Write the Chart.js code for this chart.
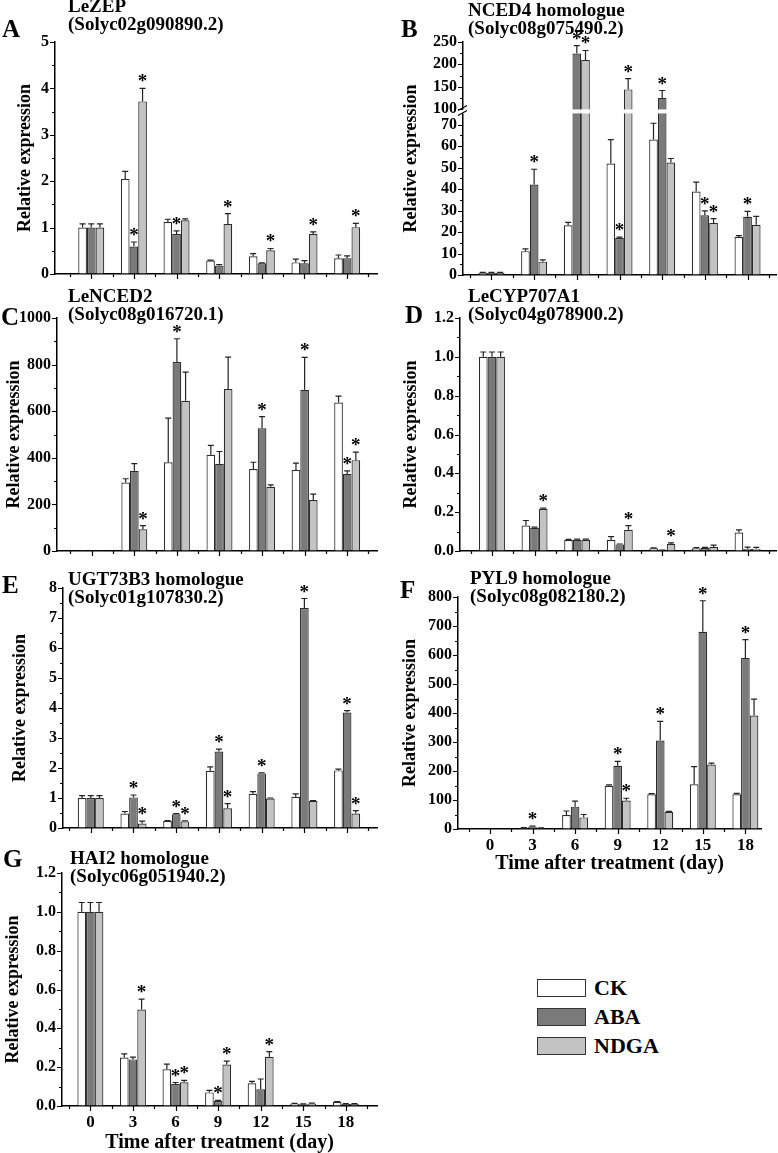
<!DOCTYPE html>
<html>
<head>
<meta charset="utf-8">
<title>ABA pathway gene expression</title>
<script src="https://cdn.jsdelivr.net/npm/chart.js@4.4.1/dist/chart.umd.min.js"></script>
<style>
  html, body { margin: 0; padding: 0; background: #fff; }
  body { position: relative; width: 778px; height: 1153px; overflow: hidden;
         font-family: 'Liberation Serif', 'Times New Roman', serif; font-weight: bold; color: #000; }
  canvas { position: absolute; }
  .letter { position: absolute; font-size: 25px; line-height: 25px; z-index: 2; }
  .gene { position: absolute; font-size: 19px; line-height: 17.5px; white-space: nowrap; z-index: 2; }
  .key { position: absolute; left: 537px; width: 47px; height: 16px; border: 1.5px solid #333; }
  .keytxt { position: absolute; left: 594px; font-size: 22px; line-height: 22px; }
</style>
</head>
<body>
<div class="letter" style="left:2px;top:16px">A</div>
<div class="gene" style="left:68px;top:-3px">LeZEP<br>(Solyc02g090890.2)</div>
<div class="letter" style="left:401px;top:16px">B</div>
<div class="gene" style="left:468px;top:1px">NCED4 homologue<br>(Solyc08g075490.2)</div>
<div class="letter" style="left:1px;top:304px">C</div>
<div class="gene" style="left:68px;top:287px">LeNCED2<br>(Solyc08g016720.1)</div>
<div class="letter" style="left:405px;top:302px">D</div>
<div class="gene" style="left:468px;top:287px">LeCYP707A1<br>(Solyc04g078900.2)</div>
<div class="letter" style="left:2px;top:572px">E</div>
<div class="gene" style="left:68px;top:570px">UGT73B3 homologue<br>(Solyc01g107830.2)</div>
<div class="letter" style="left:400px;top:577px">F</div>
<div class="gene" style="left:470px;top:569px">PYL9 homologue<br>(Solyc08g082180.2)</div>
<div class="letter" style="left:3px;top:846px">G</div>
<div class="gene" style="left:70px;top:849px">HAI2 homologue<br>(Solyc06g051940.2)</div>

<div class="key" style="top:979px;background:#ffffff"></div>
<div class="keytxt" style="top:977px">CK</div>
<div class="key" style="top:1008px;background:#7a7a7a"></div>
<div class="keytxt" style="top:1006px">ABA</div>
<div class="key" style="top:1037px;background:#c3c3c3"></div>
<div class="keytxt" style="top:1035px">NDGA</div>

<script>
Chart.defaults.font.family = "'Liberation Serif', 'Times New Roman', serif";
Chart.defaults.font.weight = 'bold';
Chart.defaults.color = '#000';

const days = [0, 3, 6, 9, 12, 15, 18];
const treatments = ['CK', 'ABA', 'NDGA'];
const barFills = ['#ffffff', '#7a7a7a', '#c3c3c3'];

// A  LeZEP   (rows: CK, ABA, NDGA)
const zepMean = [[1, 2.05, 1.12, 0.29, 0.38, 0.25, 0.34],
                 [1, 0.59, 0.86, 0.18, 0.23, 0.23, 0.34],
                 [1, 3.72, 1.16, 1.08, 0.51, 0.86, 1.01]];
const zepErr  = [[0.08, 0.16, 0.06, 0.01, 0.06, 0.07, 0.07],
                 [0.08, 0.10, 0.07, 0.02, 0.01, 0.06, 0.05],
                 [0.08, 0.28, 0.03, 0.22, 0.04, 0.05, 0.08]];
const zepStar = [[0, 0, 0, 0, 0, 0, 0], [0, 1, 1, 0, 0, 0, 0], [0, 1, 0, 1, 1, 1, 1]];
const zepTicks = [0, 1, 2, 3, 4, 5];

// B  NCED4 homologue
const nced4Mean = [[1, 11.1, 23.1, 51.9, 63.0, 38.8, 17.7],
                   [1, 42.1, 224, 17.2, 125, 27.8, 27.1],
                   [1, 6.2, 210, 144, 52.3, 24.2, 23.4]];
const nced4Err  = [[0.2, 1.1, 1.4, 11.1, 7.6, 4.4, 0.6],
                   [0.2, 7.1, 18, 0.4, 16.5, 2.0, 2.5],
                   [0.2, 0.8, 21, 24, 1.9, 2.0, 3.9]];
const nced4Star = [[0, 0, 0, 0, 0, 0, 0], [0, 1, 1, 1, 1, 1, 1], [0, 0, 1, 1, 0, 1, 0]];
const nced4Ticks = [0, 10, 20, 30, 40, 50, 60, 70, 100, 150, 200, 250];

// C  LeNCED2
const nced2Mean = [[1, 294, 381, 413, 352, 348, 637],
                   [1, 344, 811, 374, 527, 692, 331],
                   [1, 93, 645, 695, 276, 219, 390]];
const nced2Err  = [[0, 16, 189, 40, 29, 29, 28],
                   [0, 31, 100, 53, 50, 139, 13],
                   [0, 16, 123, 137, 8, 25, 34]];
const nced2Star = [[0, 0, 0, 0, 0, 0, 0], [0, 0, 1, 0, 1, 1, 1], [0, 1, 0, 0, 0, 0, 1]];
const nced2Ticks = [0, 200, 400, 600, 800, 1000];

// D  LeCYP707A1
const cypMean = [[1, 0.131, 0.057, 0.057, 0.014, 0.014, 0.095],
                 [1, 0.120, 0.058, 0.034, 0.004, 0.015, 0.012],
                 [1, 0.217, 0.058, 0.109, 0.036, 0.020, 0.012]];
const cypErr  = [[0.025, 0.026, 0.003, 0.017, 0.002, 0.004, 0.014],
                 [0.025, 0.003, 0.003, 0.002, 0.001, 0.004, 0.008],
                 [0.025, 0.004, 0.003, 0.022, 0.006, 0.010, 0.007]];
const cypStar = [[0, 0, 0, 0, 0, 0, 0], [0, 0, 0, 0, 0, 0, 0], [0, 1, 0, 1, 1, 0, 0]];
const cypTicks = [0, 0.2, 0.4, 0.6, 0.8, 1.0, 1.2];

// E  UGT73B3 homologue
const ugtMean = [[1, 0.48, 0.23, 1.91, 1.14, 1.04, 1.92],
                 [1, 1.02, 0.46, 2.55, 1.82, 7.33, 3.85],
                 [1, 0.15, 0.22, 0.66, 0.98, 0.90, 0.48]];
const ugtErr  = [[0.08, 0.07, 0.02, 0.13, 0.07, 0.10, 0.04],
                 [0.08, 0.08, 0.02, 0.08, 0.02, 0.32, 0.06],
                 [0.08, 0.08, 0.02, 0.15, 0.02, 0.01, 0.10]];
const ugtStar = [[0, 0, 0, 0, 0, 0, 0], [0, 1, 1, 1, 1, 1, 1], [0, 1, 1, 1, 0, 0, 1]];
const ugtTicks = [0, 1, 2, 3, 4, 5, 6, 7, 8];

// F  PYL9 homologue
const pylMean = [[1, 4, 48, 149, 120, 154, 120],
                 [1, 8, 77, 218, 305, 680, 590],
                 [1, 3, 40, 98, 59, 222, 391]];
const pylErr  = [[0, 1, 14, 3, 2, 61, 3],
                 [0, 2, 19, 15, 66, 107, 63],
                 [0, 1, 10, 8, 2, 5, 57]];
const pylStar = [[0, 0, 0, 0, 0, 0, 0], [0, 1, 0, 1, 1, 1, 1], [0, 0, 0, 1, 0, 0, 0]];
const pylTicks = [0, 100, 200, 300, 400, 500, 600, 700, 800];

// G  HAI2 homologue
const haiMean = [[1, 0.250, 0.189, 0.070, 0.117, 0.012, 0.020],
                 [1, 0.240, 0.113, 0.026, 0.086, 0.009, 0.010],
                 [1, 0.497, 0.122, 0.214, 0.254, 0.012, 0.010]];
const haiErr  = [[0.048, 0.018, 0.027, 0.010, 0.010, 0.002, 0.003],
                 [0.048, 0.012, 0.008, 0.003, 0.053, 0.002, 0.002],
                 [0.048, 0.053, 0.010, 0.017, 0.026, 0.003, 0.002]];
const haiStar = [[0, 0, 0, 0, 0, 0, 0], [0, 0, 1, 1, 0, 0, 0], [0, 1, 1, 1, 1, 0, 0]];
const haiTicks = [0, 0.2, 0.4, 0.6, 0.8, 1.0, 1.2];

// broken y axis of panel B: 0-75 full scale, 100-250 squeezed above the break
const BREAK_LO = 75, BREAK_HI = 100, BREAK_AT = 77.2, UPPER_K = 0.208;
function brokenT(v) {
  if (v === null || v <= BREAK_LO) return v;
  if (v >= BREAK_HI) return BREAK_AT + (v - BREAK_HI) * UPPER_K;
  return BREAK_LO + (v - BREAK_LO) * (BREAK_AT - BREAK_LO) / (BREAK_HI - BREAK_LO);
}
class BrokenScale extends Chart.LinearScale {
  getPixelForValue(v) { return super.getPixelForValue(brokenT(v)); }
}
BrokenScale.id = 'broken';
BrokenScale.defaults = Chart.LinearScale.defaults;
Chart.register(BrokenScale);

function makePanel(p) {
  const LEFT = 64, TOP = 14, RIGHT = 4;
  const w = p.x1 - p.x0 + LEFT + RIGHT;
  const h = p.y1 - p.y0 + TOP + p.bottom;
  const cv = document.createElement('canvas');
  cv.width = w; cv.height = h;
  cv.style.left = (p.x0 - LEFT) + 'px';
  cv.style.top = (p.y0 - TOP) + 'px';
  cv.style.width = w + 'px'; cv.style.height = h + 'px';
  document.body.appendChild(cv);

  const tickFont = {size: 16, weight: 'bold'};

  const decor = {
    id: 'decor',
    afterDatasetsDraw(chart) {
      const ctx = chart.ctx, ys = chart.scales.y, a = chart.chartArea;
      ctx.save();
      ctx.strokeStyle = '#222';
      ctx.lineWidth = 1.2;
      ctx.fillStyle = '#000';
      ctx.font = "bold 19px 'Liberation Serif', serif";
      ctx.textAlign = 'center';
      chart.data.datasets.forEach((ds, k) => {
        chart.getDatasetMeta(k).data.forEach((bar, i) => {
          const top = ys.getPixelForValue(p.mean[k][i] + p.err[k][i]);
          if (p.err[k][i] > 0) {
            ctx.beginPath();
            ctx.moveTo(bar.x, bar.y);
            ctx.lineTo(bar.x, top);
            ctx.moveTo(bar.x - 3, top);
            ctx.lineTo(bar.x + 3, top);
            ctx.stroke();
          }
          if (p.star[k][i]) ctx.fillText('*', bar.x, Math.min(top, bar.y) - 1);
        });
      });
      if (p.broken) {
        const yb = (ys.getPixelForValue(BREAK_LO) + ys.getPixelForValue(BREAK_HI)) / 2;
        ctx.fillStyle = '#fff';
        ctx.fillRect(a.left - 7, yb - 2, a.right - a.left + 7, 4);
        ctx.strokeStyle = '#000';
        ctx.beginPath();
        ctx.moveTo(a.left - 5, yb - 1); ctx.lineTo(a.left + 4, yb - 6);
        ctx.moveTo(a.left - 5, yb + 4); ctx.lineTo(a.left + 4, yb - 1);
        ctx.stroke();
      }
      ctx.restore();
    },
    afterDraw(chart) {
      const ctx = chart.ctx, xs = chart.scales.x, ys = chart.scales.y, a = chart.chartArea;
      const yMinor = [];
      for (let i = 1; i < p.yTicks.length; i++) {
        const lo = p.yTicks[i - 1], hi = p.yTicks[i];
        if (p.broken && lo < BREAK_HI && hi >= BREAK_HI) continue;
        yMinor.push((lo + hi) / 2);
      }
      const xMinor = [];
      days.forEach(d => [d - 1.5, d + 1.5].forEach(m => {
        if (m > p.xmin && m < p.xmax && !xMinor.includes(m)) xMinor.push(m);
      }));
      ctx.save();
      ctx.strokeStyle = '#000';
      ctx.lineWidth = 1.2;
      ctx.beginPath();
      p.yTicks.forEach(v => {
        const y = Math.round(ys.getPixelForValue(v)) + 0.5;
        ctx.moveTo(a.left - 5, y); ctx.lineTo(a.left, y);
      });
      yMinor.forEach(v => {
        const y = Math.round(ys.getPixelForValue(v)) + 0.5;
        ctx.moveTo(a.left - 3, y); ctx.lineTo(a.left, y);
      });
      days.forEach(v => {
        const x = Math.round(xs.getPixelForValue(v)) + 0.5;
        ctx.moveTo(x, a.bottom); ctx.lineTo(x, a.bottom + 5);
      });
      xMinor.forEach(v => {
        const x = Math.round(xs.getPixelForValue(v)) + 0.5;
        ctx.moveTo(x, a.bottom); ctx.lineTo(x, a.bottom + 3);
      });
      ctx.stroke();
      ctx.restore();
    }
  };

  return new Chart(cv, {
    type: 'bar',
    data: {
      datasets: treatments.map((t, k) => ({
        label: t,
        data: days.map((d, i) => ({x: d, y: p.mean[k][i]})),
        backgroundColor: barFills[k],
        borderColor: '#2b2b2b',
        borderWidth: 1.2,
        categoryPercentage: 0.61,
        barPercentage: 1.0
      }))
    },
    options: {
      responsive: false,
      animation: false,
      layout: {padding: {top: TOP, right: RIGHT, left: 0, bottom: 0}},
      plugins: {legend: {display: false}, tooltip: {enabled: false}},
      scales: {
        x: {
          type: 'linear',
          min: p.xmin, max: p.xmax,
          offset: false,
          grid: {display: true, drawOnChartArea: false, drawTicks: false, offset: false},
          border: {display: true, color: '#000', width: 1.5},
          afterBuildTicks: s => { s.ticks = days.map(v => ({value: v})); },
          afterFit: s => { s.height = p.bottom; s.paddingLeft = 0; s.paddingRight = 0; },
          ticks: {display: !!p.xLabels, autoSkip: false, maxRotation: 0, padding: 6,
                  font: {size: 17, weight: 'bold'}, color: '#000', callback: v => String(v)},
          title: {display: !!p.xLabels, text: 'Time after treatment (day)', color: '#000',
                  font: {size: 20, weight: 'bold'},
                  padding: {top: 0, bottom: p.bottom - (p.xtDist || 0) - 12}}
        },
        y: {
          type: p.broken ? 'broken' : 'linear',
          min: 0, max: p.ymax,
          grid: {display: true, drawOnChartArea: false, drawTicks: false},
          border: {display: true, color: '#000', width: 1.5},
          afterBuildTicks: s => { s.ticks = p.yTicks.map(v => ({value: v})); },
          afterFit: s => { s.width = LEFT; s.paddingTop = 0; s.paddingBottom = 0; },
          ticks: {autoSkip: false, padding: 6, font: tickFont, color: '#000',
                  callback: v => p.fmt ? v.toFixed(p.fmt) : String(v)},
          title: {display: true, text: 'Relative expression', color: '#000',
                  font: {size: 18, weight: 'bold'},
                  padding: {top: p.ytX - (p.x0 - LEFT) - 10.8, bottom: 0}}
        }
      }
    },
    plugins: [decor]
  });
}

makePanel({mean: zepMean, err: zepErr, star: zepStar, yTicks: zepTicks, ymax: 5,
  x0: 55, x1: 377, y0: 42, y1: 274, xmin: -2.55, xmax: 20.1, ytX: 25, bottom: 12});
makePanel({mean: nced4Mean, err: nced4Err, star: nced4Star, yTicks: nced4Ticks, ymax: brokenT(250), broken: true,
  x0: 463, x1: 776, y0: 42, y1: 275, xmin: -2.0, xmax: 20.0, ytX: 411, bottom: 12});
makePanel({mean: nced2Mean, err: nced2Err, star: nced2Star, yTicks: nced2Ticks, ymax: 1000,
  x0: 57, x1: 377, y0: 318, y1: 551, xmin: -2.45, xmax: 20.1, ytX: 14, bottom: 12});
makePanel({mean: cypMean, err: cypErr, star: cypStar, yTicks: cypTicks, ymax: 1.2, fmt: 1,
  x0: 460, x1: 776, y0: 318, y1: 551, xmin: -2.25, xmax: 20.0, ytX: 411, bottom: 12});
makePanel({mean: ugtMean, err: ugtErr, star: ugtStar, yTicks: ugtTicks, ymax: 8,
  x0: 63, x1: 377, y0: 588, y1: 828, xmin: -1.95, xmax: 20.1, ytX: 20, bottom: 12});
makePanel({mean: pylMean, err: pylErr, star: pylStar, yTicks: pylTicks, ymax: 800,
  x0: 458, x1: 761, y0: 597, y1: 829, xmin: -2.25, xmax: 19.1, ytX: 410, bottom: 50, xLabels: true, xtDist: 35});
makePanel({mean: haiMean, err: haiErr, star: haiStar, yTicks: haiTicks, ymax: 1.2, fmt: 1,
  x0: 62, x1: 377, y0: 873, y1: 1106, xmin: -2.0, xmax: 20.2, ytX: 13, bottom: 50, xLabels: true, xtDist: 37});
</script>
</body>
</html>
